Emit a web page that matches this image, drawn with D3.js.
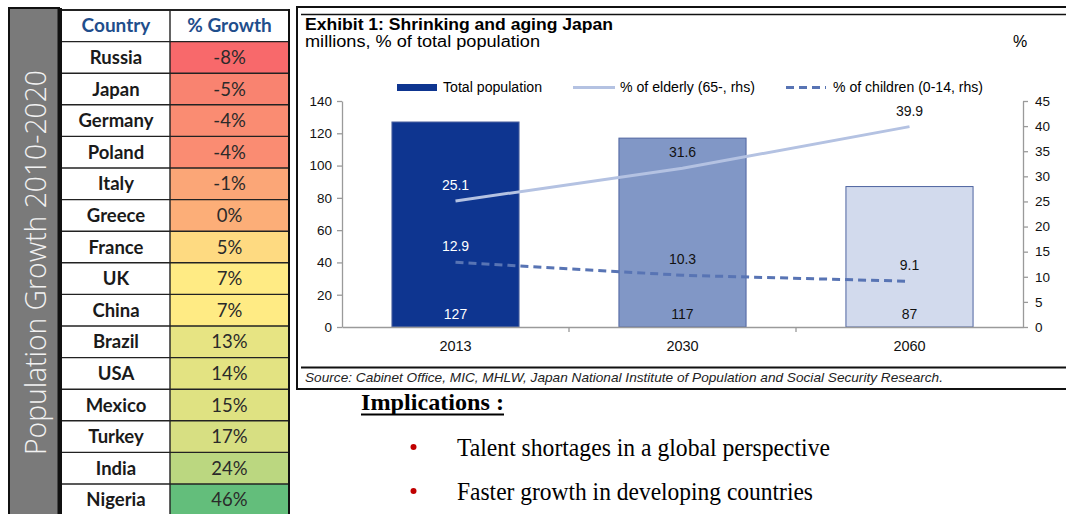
<!DOCTYPE html>
<html><head><meta charset="utf-8">
<script src="https://cdn.jsdelivr.net/npm/d3@7"></script>
<style>body{margin:0;background:#fff}svg{display:block}</style>
</head><body><svg id="c" width="1066" height="514"></svg>
<script>
// ---------- data ----------
const countries = ["Russia","Japan","Germany","Poland","Italy","Greece","France","UK","China","Brazil","USA","Mexico","Turkey","India","Nigeria"];
const growth = [-8,-5,-4,-4,-1,0,5,7,7,13,14,15,17,24,46];
const tableHeaders = ["Country","% Growth"];
const panelTitle = "Population Growth 2010-2020";

const years = ["2013","2030","2060"];
const totalPop = [127,117,87];
const elderly = [25.1,31.6,39.9];
const children = [12.9,10.3,9.1];
const leftTicks = [0,20,40,60,80,100,120,140];
const rightTicks = [0,5,10,15,20,25,30,35,40,45];
const legendLabels = ["Total population","% of elderly (65-, rhs)","% of children (0-14, rhs)"];
const chartTitle = "Exhibit 1: Shrinking and aging Japan";
const chartSubtitle = "millions, % of total population";
const sourceText = "Source: Cabinet Office, MIC, MHLW, Japan National Institute of Population and Social Security Research.";
const implTitle = "Implications :";
const bullets = ["Talent shortages in a global perspective","Faster growth in developing countries"];

// ---------- drawing ----------
const svg = d3.select("#c");
const SANS = "'Liberation Sans', Arial, sans-serif";
const CAL = "Lato, 'Open Sans', sans-serif";

// left panel
svg.append("rect").attr("x",9).attr("y",8).attr("width",50).attr("height",520).attr("fill","#7a7a7a")
  .attr("stroke","#111").attr("stroke-width",2);
svg.append("rect").attr("x",57.5).attr("y",8).attr("width",4.5).attr("height",520).attr("fill","#111");
svg.append("text").attr("transform","translate(46,262.5) rotate(-90)").attr("text-anchor","middle")
  .attr("font-family","'Open Sans', sans-serif").attr("font-weight",300).attr("font-size",30)
  .attr("fill","#f2f2f2").attr("textLength",385).attr("lengthAdjust","spacingAndGlyphs").text(panelTitle);

// table
const rowY = d3.scaleBand().domain(d3.range(-1, countries.length)).range([10, 10 + 31.6*(countries.length+1)]);
const colX = [62,170,289];
const colorScale = d3.scaleLinear().domain([d3.min(growth), d3.quantile(growth.slice().sort(d3.ascending),0.5), d3.max(growth)])
  .range(["#f8696b","#ffeb84","#63be7b"]);
const tbl = svg.append("g");
tbl.append("rect").attr("x",colX[0]).attr("y",rowY(-1)).attr("width",colX[2]-colX[0]).attr("height",rowY.bandwidth()).attr("fill","#fff");
countries.forEach((c,i)=>{
  tbl.append("rect").attr("x",colX[0]).attr("y",rowY(i)).attr("width",colX[1]-colX[0]).attr("height",rowY.bandwidth()).attr("fill","#fff");
  tbl.append("rect").attr("x",colX[1]).attr("y",rowY(i)).attr("width",colX[2]-colX[1]).attr("height",rowY.bandwidth()).attr("fill",colorScale(growth[i]));
  tbl.append("text").attr("x",(colX[0]+colX[1])/2).attr("y",rowY(i)+rowY.bandwidth()/2+6.5).attr("text-anchor","middle")
    .attr("font-family",CAL).attr("font-weight",700).attr("font-size",18.5).attr("fill","#1a1a1a").text(c);
  tbl.append("text").attr("x",(colX[1]+colX[2])/2).attr("y",rowY(i)+rowY.bandwidth()/2+6.5).attr("text-anchor","middle")
    .attr("font-family",CAL).attr("font-size",18.5).attr("fill","#2a2a2a").text(growth[i]+"%");
});
tableHeaders.forEach((h,j)=>{
  tbl.append("text").attr("x",(colX[j]+colX[j+1])/2).attr("y",rowY(-1)+rowY.bandwidth()/2+6.5).attr("text-anchor","middle")
    .attr("font-family",CAL).attr("font-weight",700).attr("font-size",19).attr("fill","#1f4e8c").text(h);
});
d3.range(-1, countries.length+1).forEach(i=>{
  const y = i < countries.length ? rowY(i) : rowY(countries.length-1)+rowY.bandwidth();
  tbl.append("line").attr("x1",colX[0]).attr("x2",colX[2]).attr("y1",y).attr("y2",y)
    .attr("stroke","#222").attr("stroke-width", i===-1?2:1.4);
});
tbl.append("line").attr("x1",colX[1]).attr("x2",colX[1]).attr("y1",10).attr("y2",520).attr("stroke","#222").attr("stroke-width",1.4);
tbl.append("line").attr("x1",colX[2]).attr("x2",colX[2]).attr("y1",9).attr("y2",520).attr("stroke","#111").attr("stroke-width",2);

// chart frame
svg.append("rect").attr("x",297).attr("y",7).attr("width",800).attr("height",382).attr("fill","#fff")
  .attr("stroke","#111").attr("stroke-width",2);
svg.append("line").attr("x1",301).attr("x2",1070).attr("y1",14.5).attr("y2",14.5).attr("stroke","#111").attr("stroke-width",1.6);
svg.append("line").attr("x1",301).attr("x2",1070).attr("y1",367.5).attr("y2",367.5).attr("stroke","#111").attr("stroke-width",2);

svg.append("text").attr("x",305).attr("y",30).attr("font-family",SANS).attr("font-weight",700).attr("font-size",16.5)
  .attr("textLength",308).attr("lengthAdjust","spacingAndGlyphs").attr("fill","#000").text(chartTitle);
svg.append("text").attr("x",305).attr("y",47).attr("font-family",SANS).attr("font-size",16)
  .attr("textLength",235).attr("lengthAdjust","spacingAndGlyphs").attr("fill","#000").text(chartSubtitle);
svg.append("text").attr("x",1020).attr("y",47).attr("text-anchor","middle").attr("font-family",SANS).attr("font-size",16).attr("fill","#000").text("%");
svg.append("text").attr("x",305).attr("y",382).attr("font-family",SANS).attr("font-style","italic").attr("font-size",13.2)
  .attr("textLength",638).attr("lengthAdjust","spacingAndGlyphs").attr("fill","#222").text(sourceText);

// scales
const x = d3.scaleBand().domain(years).range([342,1023]);
const yL = d3.scaleLinear().domain([0,140]).range([327,101]);
const yR = d3.scaleLinear().domain([0,45]).range([327,101]);
const barW = x.bandwidth()*0.56;
const barFill = ["#0e3590","#8197c6","#d2daed"];
const labelCol = ["#fff","#111","#111"];

const g = svg.append("g");
g.selectAll(".bar").data(years).join("rect")
  .attr("x",d=>x(d)+(x.bandwidth()-barW)/2).attr("width",barW)
  .attr("y",(d,i)=>yL(totalPop[i])).attr("height",(d,i)=>yL(0)-yL(totalPop[i]))
  .attr("fill",(d,i)=>barFill[i]).attr("stroke","#4f64a0").attr("stroke-width",1);

// axes
const axL = g.append("g").attr("transform","translate(342,0)")
  .call(d3.axisLeft(yL).tickValues(leftTicks).tickSize(5).tickSizeOuter(0).tickPadding(5));
const axR = g.append("g").attr("transform","translate(1023,0)")
  .call(d3.axisRight(yR).tickValues(rightTicks).tickSize(5).tickSizeOuter(0).tickPadding(7));
const axB = g.append("g").attr("transform","translate(0,327)")
  .call(d3.axisBottom(x).tickSize(0).tickPadding(14));
[axL,axR,axB].forEach(a=>{
  a.select(".domain").attr("stroke","#9a9a9a").attr("stroke-width",1.3);
  a.selectAll(".tick line").attr("stroke","#9a9a9a").attr("stroke-width",1.3);
  a.selectAll("text").attr("font-family",SANS).attr("font-size",13.5).attr("fill","#111");
});
axB.selectAll("text").attr("font-size",14.5);
g.selectAll(".bt").data(years.slice(1)).join("line")
  .attr("x1",d=>x(d)).attr("x2",d=>x(d)).attr("y1",327).attr("y2",332).attr("stroke","#9a9a9a").attr("stroke-width",1.3);

// lines
const cx = d=>x(d)+x.bandwidth()/2;
const lineE = d3.line().x((d,i)=>cx(years[i])).y(d=>yR(d));
g.append("path").attr("d",lineE(elderly)).attr("fill","none").attr("stroke","#b4c2e2").attr("stroke-width",3);
g.append("path").attr("d",lineE(children)).attr("fill","none").attr("stroke","#5874b4").attr("stroke-width",3).attr("stroke-dasharray","8,5");

// labels
const lab = (xx,yy,t,col)=>g.append("text").attr("x",xx).attr("y",yy).attr("text-anchor","middle")
  .attr("font-family",SANS).attr("font-size",14).attr("fill",col).text(t);
years.forEach((yr,i)=>{
  lab(cx(yr), yL(0)-8, totalPop[i], labelCol[i]);
  lab(cx(yr), yR(elderly[i])-11, elderly[i].toFixed(1), labelCol[i]);
  lab(cx(yr), yR(children[i])-11, children[i].toFixed(1), labelCol[i]);
});

// legend
const lg = svg.append("g").attr("font-family",SANS).attr("font-size",14);
lg.append("rect").attr("x",397).attr("y",84).attr("width",40).attr("height",7).attr("fill","#0e3590");
lg.append("text").attr("x",443).attr("y",92).attr("textLength",99).attr("lengthAdjust","spacingAndGlyphs").text(legendLabels[0]);
lg.append("line").attr("x1",573).attr("x2",615).attr("y1",87.5).attr("y2",87.5).attr("stroke","#b4c2e2").attr("stroke-width",3);
lg.append("text").attr("x",620).attr("y",92).attr("textLength",135).attr("lengthAdjust","spacingAndGlyphs").text(legendLabels[1]);
lg.append("line").attr("x1",786).attr("x2",826).attr("y1",87.5).attr("y2",87.5).attr("stroke","#5874b4").attr("stroke-width",3).attr("stroke-dasharray","8,5");
lg.append("text").attr("x",833).attr("y",92).attr("textLength",150).attr("lengthAdjust","spacingAndGlyphs").text(legendLabels[2]);

// implications
const SERIF = "'Liberation Serif', 'Times New Roman', serif";
svg.append("text").attr("x",361).attr("y",410).attr("font-family",SERIF).attr("font-weight",700).attr("font-size",23)
  .attr("textLength",143).attr("lengthAdjust","spacingAndGlyphs").attr("fill","#000").text(implTitle);
svg.append("rect").attr("x",361).attr("y",413.5).attr("width",143).attr("height",2).attr("fill","#000");
const bulletY = [456,500];
const bulletLen = [373,356];
bullets.forEach((b,i)=>{
  svg.append("circle").attr("cx",413.5).attr("cy",bulletY[i]-9).attr("r",3).attr("fill","#c00000");
  svg.append("text").attr("x",457).attr("y",bulletY[i]).attr("font-family",SERIF).attr("font-size",26)
    .attr("textLength",bulletLen[i]).attr("lengthAdjust","spacingAndGlyphs").attr("fill","#000").text(b);
});
</script></body></html>
